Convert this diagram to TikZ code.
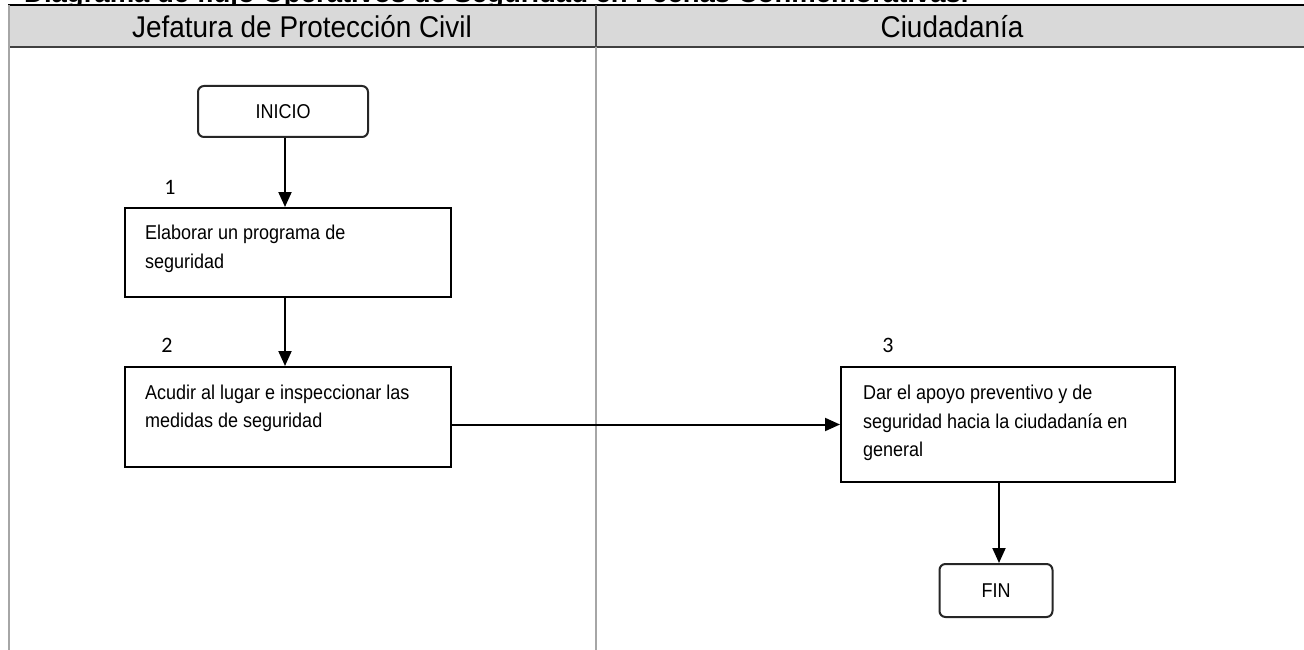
\documentclass[tikz,border=0pt]{standalone}
\usepackage{fontspec}
\setmainfont{Liberation Sans}
\newfontfamily\bodyfont[FakeStretch=0.9]{Liberation Sans}
\newfontfamily\headfont[FakeStretch=0.93]{Liberation Sans}
\newfontfamily\numfont{Carlito}
\usetikzlibrary{arrows.meta,calc}
\definecolor{hdrgray}{HTML}{D9D9D9}
\definecolor{lanegray}{HTML}{A6A6A6}
\tikzset{
  x=1pt, y=-1pt,
  procbox/.style={draw=black, line width=2pt, fill=white, rectangle, inner sep=0pt, anchor=north west},
  termbox/.style={draw=black!85, line width=2pt, fill=white, rounded corners=6pt, inner sep=0pt, font=\bodyfont\fontsize{20}{24}\selectfont},
  boxtext/.style={anchor=west, align=left, font=\bodyfont\fontsize{20}{28.5}\selectfont, inner sep=0pt},
  stepnum/.style={font=\numfont\fontsize{22}{24}\selectfont, inner sep=0pt},
  flow/.style={line width=2pt, -{Triangle[length=15pt,width=13pt]}},
  lanehead/.style={font=\headfont\fontsize{30}{32}\selectfont, inner sep=0pt}
}
\begin{document}
\begin{tikzpicture}
\useasboundingbox (0,0) rectangle (1304,650);
\clip (0,0) rectangle (1304,650);
\fill[white] (0,0) rectangle (1304,650);
% title (cut off at top, as in the reference)
\node[anchor=base west, inner sep=0pt, font=\bfseries\fontsize{27.5}{29}\selectfont] (title) at (24,3) {Diagrama de flujo Operativos de Seguridad en Fechas Conmemorativas.};
% header band
\fill[hdrgray] (9,5) rectangle (1304,47);
\draw[black, line width=2pt] (8,5) -- (1304,5);
\draw[black!75, line width=2.5pt] (8,47) -- (1304,47);
% lane lines
\draw[lanegray, line width=2.5pt] (9,5) -- (9,650);
\draw[lanegray, line width=2.5pt] (596,47) -- (596,650);
\draw[black!70, line width=2pt] (596,5) -- (596,47);
% lane headings
\node[lanehead] (h1) at (302,27) {Jefatura de Protección Civil};
\node[lanehead] (h2) at (952,27) {Ciudadanía};
% terminals
\node[termbox, minimum width=170pt, minimum height=51pt] (inicio) at (283,111.5) {INICIO};
\node[termbox, minimum width=113pt, minimum height=53pt] (fin) at (996,590.5) {FIN};
% process boxes
\node[procbox, minimum width=326pt, minimum height=89pt] (b1) at (124,207) {};
\node[procbox, minimum width=326pt, minimum height=100pt] (b2) at (124,366) {};
\node[procbox, minimum width=334pt, minimum height=115pt] (b3) at (840,366) {};
\node[boxtext] (t1) at (145,249) {Elaborar un programa de\\seguridad};
\node[boxtext] (t2) at (145,408.5) {Acudir al lugar e inspeccionar las\\medidas de seguridad};
\node[boxtext] (t3) at (863,423) {Dar el apoyo preventivo y de\\seguridad hacia la ciudadanía en\\general};
% step numbers
\node[stepnum] (n1) at (170,187) {1};
\node[stepnum] (n2) at (167,345) {2};
\node[stepnum] (n3) at (888,345) {3};
% connector start points
\coordinate (s1) at ($(inicio.south)+(2,0)$);
\coordinate (s2) at ($(b1.south west)+(161,0)$);
\coordinate (s4) at ($(b3.south west)+(159,0)$);
% connectors
\draw[flow] (s1) -- (s1 |- b1.north);
\draw[flow] (s2) -- (s2 |- b2.north);
\draw[flow] (b3.west -| b2.east) -- (b3.west);
\draw[flow] (s4) -- (s4 |- fin.north);
\end{tikzpicture}
\end{document}
